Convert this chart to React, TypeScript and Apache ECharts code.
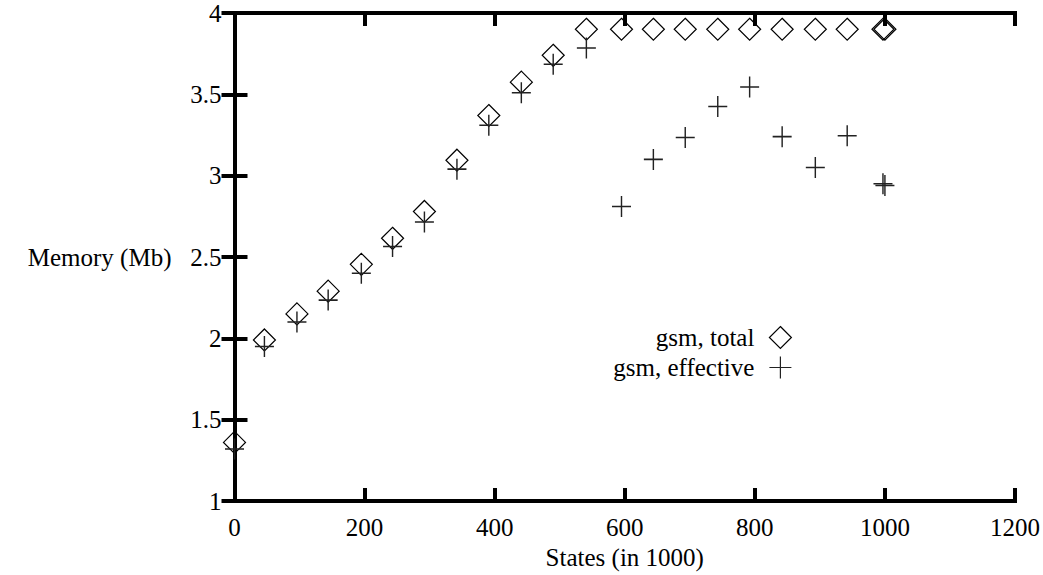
import React, { useEffect, useRef } from "react";
import * as echarts from "echarts";

const statesX = [0, 46, 96, 144, 195, 243, 292, 342, 391, 441, 490, 541, 595, 644, 693, 743, 792, 842, 893, 942, 997, 1000];
const totalMem = [1.36, 1.99, 2.15, 2.29, 2.455, 2.615, 2.78, 3.095, 3.37, 3.575, 3.74, 3.9, 3.9, 3.9, 3.9, 3.9, 3.9, 3.9, 3.9, 3.9, 3.9, 3.9];
const effectiveMem = [1.32, 1.95, 2.1, 2.235, 2.4, 2.565, 2.715, 3.04, 3.31, 3.51, 3.685, 3.785, 2.81, 3.1, 3.235, 3.425, 3.545, 3.24, 3.05, 3.245, 2.95, 2.94];
const seriesNames = ["gsm, total", "gsm, effective"];
const xTitle = "States (in 1000)";
const yTitle = "Memory (Mb)";

const FONT = "serif";
const PLUS = "path://M0,10L20,10M10,0L10,20";

export default function App() {
  const ref = useRef<HTMLDivElement>(null);
  useEffect(() => {
    if (!ref.current) return;
    const chart = echarts.init(ref.current, undefined, { renderer: "svg" });
    const axisLine = { show: true, lineStyle: { color: "#000", width: 4, cap: "square" } };
    const tick = { show: true, inside: true, length: 13, lineStyle: { color: "#000", width: 4 } };
    const plain = (v: number) => String(v);
    chart.setOption({
      animation: false,
      backgroundColor: "#fff",
      textStyle: { fontFamily: FONT },
      grid: { left: 234.5, right: 28, top: 13, bottom: 74, containLabel: false },
      legend: {
        orient: "vertical",
        right: 246,
        top: 320,
        align: "right",
        itemWidth: 22,
        itemHeight: 22,
        itemGap: 5,
        itemStyle: { borderWidth: 1.2 },
        textStyle: { fontFamily: FONT, fontSize: 25, color: "#000", padding: [0, 10, 0, 0] },
        data: [
          { name: seriesNames[0], icon: "diamond" },
          { name: seriesNames[1], icon: PLUS },
        ],
      },
      xAxis: [
        {
          type: "value",
          min: 0,
          max: 1200,
          interval: 200,
          name: xTitle,
          nameLocation: "middle",
          nameGap: 44,
          nameTextStyle: { fontFamily: FONT, fontSize: 25, color: "#000" },
          axisLine,
          axisTick: tick,
          axisLabel: { margin: 14, fontFamily: FONT, fontSize: 25, color: "#000", formatter: plain },
          splitLine: { show: false },
        },
        {
          type: "value",
          position: "top",
          min: 0,
          max: 1200,
          interval: 200,
          axisLine,
          axisTick: tick,
          axisLabel: { show: false },
          splitLine: { show: false },
        },
      ],
      yAxis: [
        {
          type: "value",
          min: 1,
          max: 4,
          interval: 0.5,
          name: yTitle,
          nameLocation: "middle",
          nameRotate: 0,
          nameGap: 63,
          nameTextStyle: { fontFamily: FONT, fontSize: 25, color: "#000", align: "right" },
          axisLine,
          axisTick: tick,
          axisLabel: { margin: 13, fontFamily: FONT, fontSize: 25, color: "#000", formatter: plain },
          splitLine: { show: false },
        },
        {
          type: "value",
          position: "right",
          min: 1,
          max: 4,
          interval: 0.5,
          axisLine,
          axisTick: tick,
          axisLabel: { show: false },
          splitLine: { show: false },
        },
      ],
      series: [
        {
          name: seriesNames[0],
          type: "scatter",
          xAxisIndex: 0,
          yAxisIndex: 0,
          symbol: "diamond",
          symbolSize: 22,
          itemStyle: { color: "rgba(0,0,0,0)", borderColor: "#000", borderWidth: 1.2, opacity: 1 },
          data: statesX.map((x, i) => [x, totalMem[i]]),
        },
        {
          name: seriesNames[1],
          type: "scatter",
          xAxisIndex: 0,
          yAxisIndex: 0,
          symbol: PLUS,
          symbolSize: [19, 21],
          itemStyle: { color: "rgba(0,0,0,0)", borderColor: "#222", borderWidth: 1.5, opacity: 1 },
          data: statesX.map((x, i) => [x, effectiveMem[i]]),
        },
      ],
    });
    return () => chart.dispose();
  }, []);
  return (
    <div
      ref={ref}
      style={{ position: "fixed", left: 0, top: 0, width: 1043, height: 575, background: "#fff" }}
    />
  );
}
